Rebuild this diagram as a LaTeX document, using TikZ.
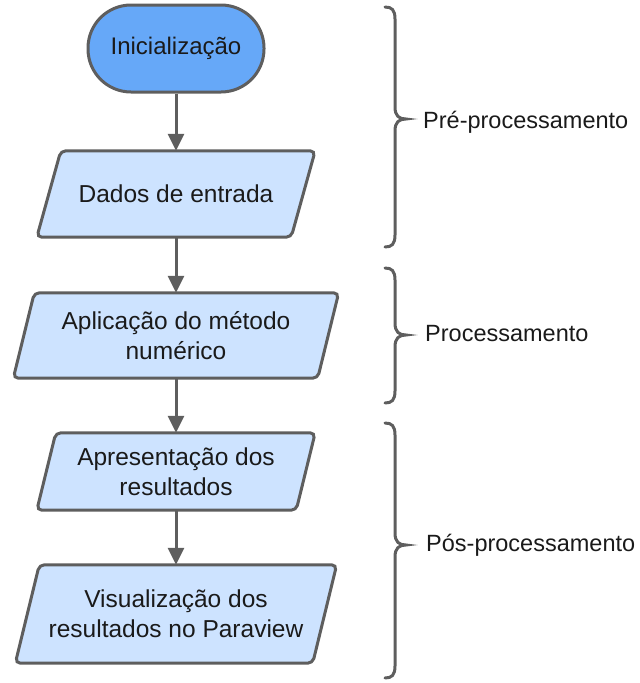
\documentclass[tikz,border=0pt]{standalone}
\usepackage{fontspec}
\setmainfont{Liberation Sans}
\usetikzlibrary{arrows.meta,backgrounds}
\definecolor{strokegray}{HTML}{5E5E5E}
\definecolor{startblue}{HTML}{66A8F8}
\definecolor{iofill}{HTML}{CDE3FF}
\definecolor{txt}{HTML}{1A1A1A}
\newcommand\parabox[2]{%
  \begin{scope}[on background layer]
    \draw[paraline] ([xshift=#2pt]#1.north west) -- ([xshift=#2pt]#1.north east)
      -- ([xshift=-#2pt]#1.south east) -- ([xshift=-#2pt]#1.south west) -- cycle;
  \end{scope}}
\newcommand\curlybrace[3]{%
  \draw[bracestyle] (385,#1) .. controls (392,#1) and (395,#1+3) .. (395,#1+12)
    -- (395,#3-12) .. controls (395,#3-3) and (399,#3) .. (406,#3)
    .. controls (399,#3) and (395,#3+3) .. (395,#3+12)
    -- (395,#2-12) .. controls (395,#2-3) and (392,#2) .. (385,#2);}
\begin{document}
\begin{tikzpicture}[x=1pt,y=-1pt,
  every node/.style={font=\fontsize{23.5}{30}\selectfont, text=txt},
  boxtext/.style={align=center, inner sep=0pt, font=\fontsize{24.5}{30}\selectfont},
  paraline/.style={draw=strokegray, fill=iofill, line width=3pt, rounded corners=5pt},
  startbox/.style={draw=strokegray, fill=startblue, line width=3pt, rounded corners=43pt,
    minimum width=176pt, minimum height=87pt, inner sep=0pt, font=\fontsize{24}{30}\selectfont},
  flow/.style={draw=strokegray, line width=3pt, -{Triangle[length=17pt,width=16pt]}},
  bracestyle/.style={draw=strokegray, line width=3pt, line cap=round},
  sidelabel/.style={anchor=base west, inner sep=0pt}
]
\useasboundingbox (0,0) rectangle (640,683);

\node[startbox] (init) at (176,48.5) {Inicialização};
\node[boxtext, minimum width=254pt, minimum height=86pt] (dados) at (176,194) {Dados de entrada};
\node[boxtext, minimum width=304pt, minimum height=85pt] (aplic) at (176,335.5) {Aplicação do método\\numérico};
\node[boxtext, minimum width=259pt, minimum height=77pt] (apres) at (176,471.5) {Apresentação dos\\resultados};
\node[boxtext, minimum width=297pt, minimum height=98pt] (visu) at (176,614) {Visualização dos\\resultados no Paraview};

\parabox{dados}{12}
\parabox{aplic}{10.5}
\parabox{apres}{9.5}
\parabox{visu}{12}

\draw[flow] (init.south) -- (dados.north);
\draw[flow] (dados.south) -- (aplic.north);
\draw[flow] (aplic.south) -- (apres.north);
\draw[flow] (apres.south) -- (visu.north);

\curlybrace{7}{247}{119}
\curlybrace{268}{403}{335}
\curlybrace{423}{678}{545}

\node[sidelabel] (lpre) at (423,128) {Pré-processamento};
\node[sidelabel] (lproc) at (425,341) {Processamento};
\node[sidelabel] (lpos) at (426,551) {Pós-processamento};
\end{tikzpicture}
\end{document}
